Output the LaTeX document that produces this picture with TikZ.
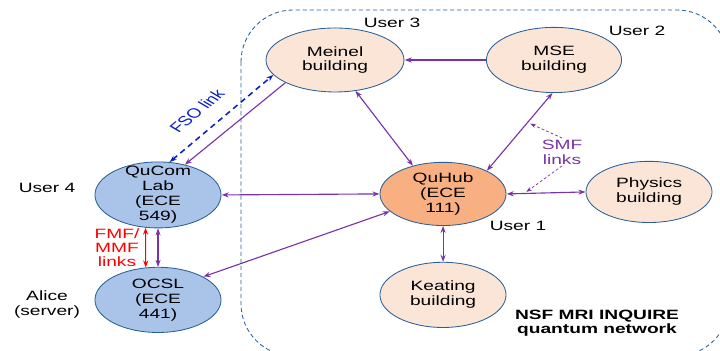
\documentclass[tikz,border=0pt]{standalone}
\usepackage{fontspec}
\setmainfont{Liberation Sans}
\usepackage{xcolor}
\usetikzlibrary{arrows.meta,positioning,shapes}

\definecolor{lnpurple}{RGB}{120,50,170}
\definecolor{fsoblue}{RGB}{10,30,200}
\definecolor{edgeblue}{RGB}{40,95,150}
\definecolor{bldfill}{RGB}{251,229,214}
\definecolor{hubfill}{RGB}{248,176,130}
\definecolor{labfill}{RGB}{169,196,232}

\begin{document}
\begin{tikzpicture}[x=0.017606cm, y=-0.025cm, xscale=1.42, transform shape,
  every node/.style={font=\fontsize{9.6}{10.6}\selectfont},
  >={Stealth[length=5pt,width=3.6pt]},
  site/.style={ellipse, draw=edgeblue, line width=0.6pt, inner sep=0pt},
  bldg/.style={site, fill=bldfill},
  hub/.style={site, fill=hubfill},
  lab/.style={site, fill=labfill},
  lbl/.style={align=center, inner sep=0pt},
  link/.style={draw=lnpurple, line width=0.8pt},
  fso/.style={draw=fsoblue, line width=1.1pt, dash pattern=on 4pt off 3pt},
  fmf/.style={draw=red, line width=0.8pt},
  smfptr/.style={draw=lnpurple, line width=0.5pt, dash pattern=on 2pt off 1.5pt,
    shorten >=2pt, -{Stealth[length=4pt,width=3pt]}}]
\useasboundingbox (0,0) rectangle (720,351);

% network region
\begin{scope}
\clip (0,0) rectangle (720,351);
\draw[edgeblue, line width=0.6pt, dash pattern=on 3pt off 2pt, rounded corners=1.3cm]
  (241,10) rectangle (729,356);
\end{scope}

% sites
\node[lab, minimum width=2.22cm, minimum height=1.65cm,
  label={[lbl]center:QuCom\\Lab\\(ECE\\549)}] (qucom) at (158,195) {};
\node[lab, minimum width=2.22cm, minimum height=1.63cm,
  label={[lbl]center:OCSL\\(ECE\\441)}] (ocsl) at (158,300) {};
\node[bldg, minimum width=2.43cm, minimum height=1.6cm,
  label={[lbl]center:Meinel\\building}] (meinel) at (335,60) {};
\node[bldg, minimum width=2.38cm, minimum height=1.63cm,
  label={[lbl]center:MSE\\building}] (mse) at (554,60) {};
\node[hub, minimum width=2.22cm, minimum height=1.58cm,
  label={[lbl]center:QuHub\\(ECE\\111)}] (quhub) at (443,194) {};
\node[bldg, minimum width=2.22cm, minimum height=1.53cm,
  label={[lbl]center:Physics\\building}] (physics) at (649,192) {};
\node[bldg, minimum width=2.22cm, minimum height=1.63cm,
  label={[lbl]center:Keating\\building}] (keating) at (443,295) {};

% users
\node (user3) at (392,23) {User 3};
\node (user2) at (637,31) {User 2};
\node (user4) at (47,188) {User 4};
\node (user1) at (518,226) {User 1};
\node[align=center] (alice) at (47,305) {Alice\\(server)};
\node[align=center, font=\bfseries\fontsize{9.6}{10}\selectfont] (inquire) at (597,323)
  {NSF MRI INQUIRE\\quantum network};

% link labels
\node[align=center, text=lnpurple, inner sep=1pt] (smf) at (562,152) {SMF\\links};
\node[align=center, text=red, font=\fontsize{9.6}{10}\selectfont] (fmf) at (117,248) {FMF/\\MMF\\links};
\node[text=fsoblue, rotate=50] (fsolbl) at (197,111) {FSO link};

% links
\draw[link, ->] (meinel.213) -- (qucom.58);
\draw[fso, <->] (qucom.76) -- (meinel.199);
\draw[link, ->] (mse.west) -- (meinel.east);
\draw[link, <->] (meinel.295) -- (quhub.127);
\draw[link, <->] (mse.268) -- coordinate[pos=0.38] (smfa) (quhub.37);
\draw[link, <->] (quhub.east) -- coordinate[pos=0.22] (smfb) (physics.west);
\draw[link, <->] (quhub.south) -- (keating.north);
\draw[link, <->] (qucom.east) -- (quhub.west);
\draw[link, <->] (ocsl.36) -- (quhub.205);
\draw[link, <->] (qucom.south) -- (ocsl.north);
\draw[fmf, <->] (qucom.255) -- (ocsl.105);
\draw[smfptr] (smf.north) -- (smfa);
\draw[smfptr] (smf.south) -- (smfb);
\end{tikzpicture}
\end{document}
